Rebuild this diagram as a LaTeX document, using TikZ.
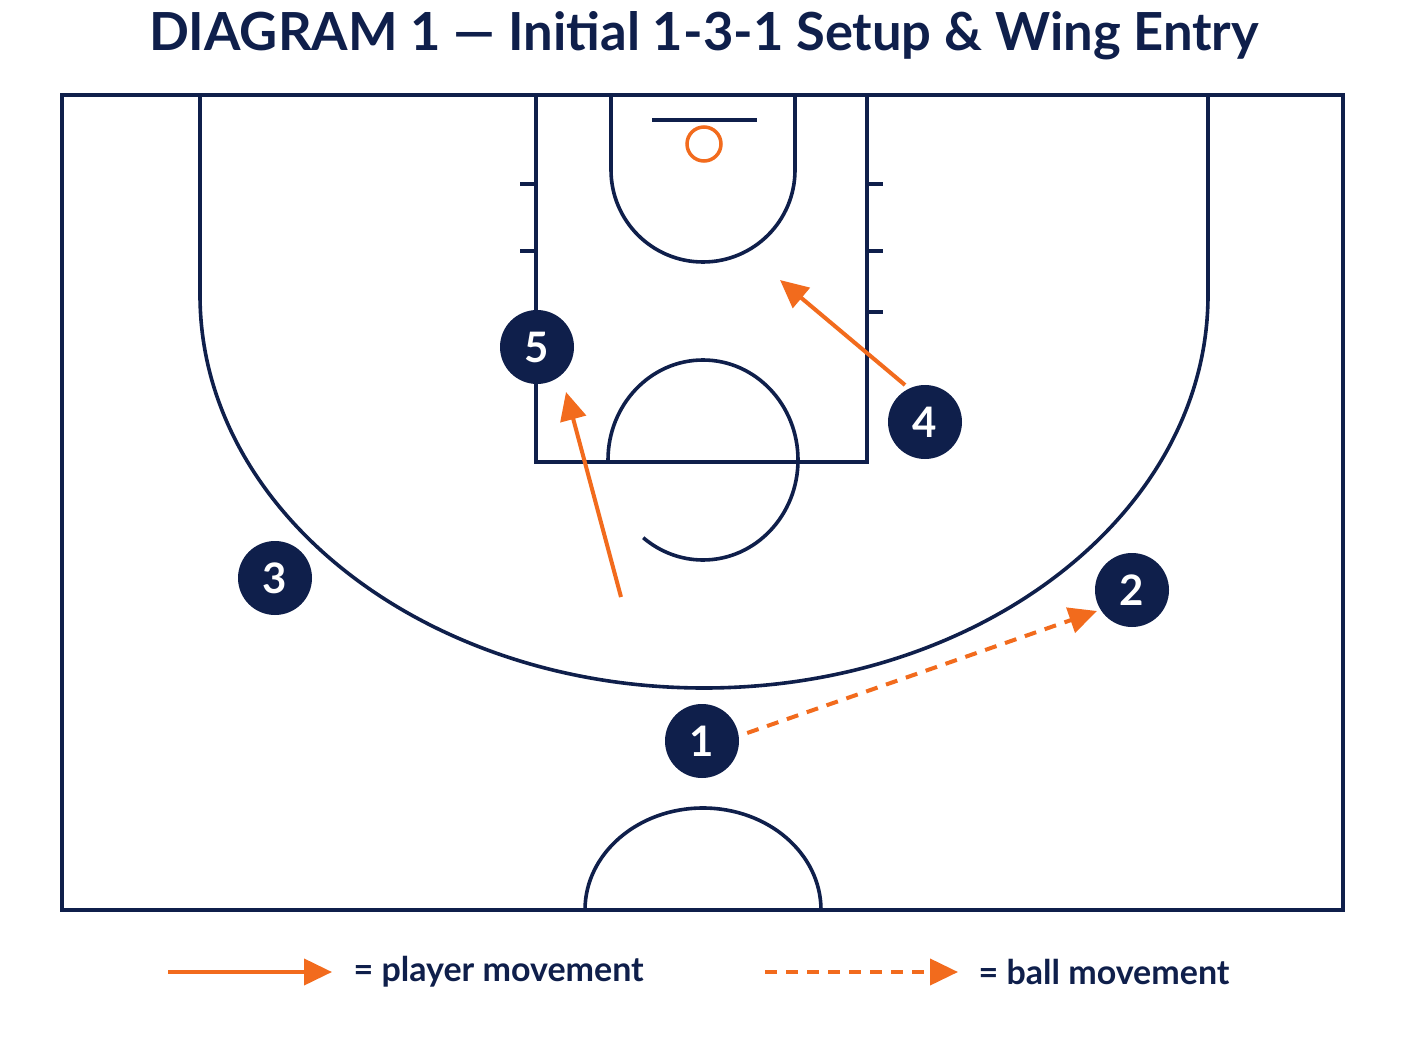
\documentclass[tikz,border=0pt]{standalone}
\usepackage{fontspec}
\setmainfont{Lato}
\usetikzlibrary{arrows.meta}
\definecolor{navy}{HTML}{0F1F4B}
\definecolor{org}{HTML}{F26B1D}
\begin{document}
\begin{tikzpicture}[x=1pt,y=-1pt,
  court/.style={draw=navy,line width=3.6pt},
  player/.style={circle,fill=navy,minimum size=74pt,inner sep=0pt,text=white,font=\fontsize{42}{42}\selectfont\bfseries},
  move/.style={draw=org,line width=4pt,-{Triangle[length=28pt,width=26pt]}},
  pass/.style={draw=org,line width=4pt,dash pattern=on 12pt off 9pt,-{Triangle[length=28pt,width=26pt]}},
  lbl/.style={text=navy,font=\fontsize{34}{34}\selectfont\bfseries,anchor=west}]
\useasboundingbox (0,0) rectangle (1408,1056);
\fill[white] (0,0) rectangle (1408,1056);
\node[text=navy,font=\fontsize{52.5}{52.5}\selectfont\bfseries] (title) at (704,36) {DIAGRAM 1 — Initial 1-3-1 Setup \& Wing Entry};
% court
\draw[court] (62,95) rectangle (1343,910);
\draw[court] (200,95) -- (200,295) arc[start angle=180,end angle=0,x radius=504,y radius=393] -- (1208,95);
\draw[court] (536,95) -- (536,462) -- (867,462) -- (867,95);
\foreach \y in {184,251} \draw[court] (520,\y) -- (536,\y);
\foreach \y in {184,251,312} \draw[court] (867,\y) -- (883,\y);
\draw[court] (611,95) -- (611,170) arc[start angle=180,end angle=0,radius=92] -- (795,95);
\draw[navy,line width=4pt] (652,120) -- (757,120);
\draw[org,line width=3.5pt] (704,144) circle[radius=17];
\draw[court] (608,460) arc[start angle=180,end angle=489,x radius=95,y radius=100];
\draw[court] (585,910) arc[start angle=180,end angle=360,x radius=118,y radius=102];
% players
\node[player] (p5) at (537,347) {5};
\node[player] (p4) at (925,422) {4};
\node[player] (p3) at (275,578) {3};
\node[player] (p2) at (1132,590) {2};
\node[player] (p1) at (702,741) {1};
\coordinate (a4s) at (905,385); \coordinate (a4e) at (780,280);
\coordinate (a5s) at (621,597); \coordinate (a5e) at (566,392);
\draw[move] (a4s) -- (a4e);
\draw[move] (a5s) -- (a5e);
\draw[pass] (p1.east) ++(8,-8) -- (1097,611);
% legend
\coordinate (l1s) at (168,972); \coordinate (l1e) at (332,972);
\coordinate (l2s) at (765,972); \coordinate (l2e) at (958,972);
\draw[move] (l1s) -- (l1e);
\draw[pass] (l2s) -- (l2e);
\node[lbl] (t1) at (350,972) {= player movement};
\node[lbl] (t2) at (975,972) {= ball movement};
\end{tikzpicture}
\end{document}
